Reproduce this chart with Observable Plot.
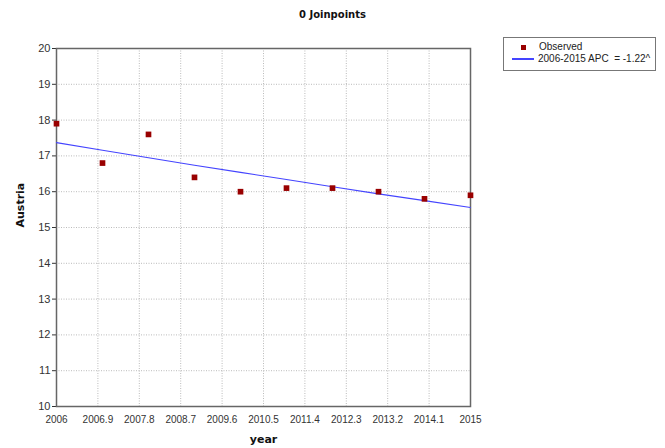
<!DOCTYPE html>
<html><head><meta charset="utf-8">
<script src="https://cdn.jsdelivr.net/npm/d3@7"></script>
<script src="https://cdn.jsdelivr.net/npm/@observablehq/plot@0.6"></script>
<style>
body{margin:0;background:#fff;}
#wrap{position:relative;width:665px;height:448px;font-family:"DejaVu Sans",sans-serif;}
#title{position:absolute;left:0;width:665px;top:9px;text-align:center;font-weight:bold;font-size:10px;color:#111;}
#legend{position:absolute;left:503px;top:37px;width:153px;height:34px;border:1px solid #777;box-sizing:border-box;font-family:"Liberation Sans",sans-serif;font-size:10px;color:#222;}
.row{position:absolute;left:0;height:12px;line-height:12px;white-space:pre;}
.sw{display:inline-block;vertical-align:middle;}
</style></head>
<body><div id="wrap"><div id="title"></div><div id="legend"></div></div>
<script>
const years = [2006, 2007, 2008, 2009, 2010, 2011, 2012, 2013, 2014, 2015];
const observed = [17.9, 16.8, 17.6, 16.4, 16.0, 16.1, 16.1, 16.0, 15.8, 15.9];
const modeled = [17.37, 17.16, 16.95, 16.74, 16.54, 16.34, 16.14, 15.94, 15.75, 15.56];
const xTickLabels = ["2006", "2006.9", "2007.8", "2008.7", "2009.6", "2010.5", "2011.4", "2012.3", "2013.2", "2014.1", "2015"];
const yTicks = [10, 11, 12, 13, 14, 15, 16, 17, 18, 19, 20];
const titleText = "0 Joinpoints";
const seriesNames = ["Observed", "2006-2015 APC  = -1.22^"];
const xLabel = "year";
const yLabel = "Austria";
const colors = {observed: "#990000", line: "#4444ff"};

const xTicks = xTickLabels.map(Number);
const data = years.map((y, i) => ({year: y, obs: observed[i], fit: modeled[i]}));

const chart = Plot.plot({
  width: 665, height: 448,
  marginLeft: 56, marginRight: 195, marginTop: 48, marginBottom: 42,
  style: {fontFamily: "Liberation Sans, sans-serif", fontSize: "10px", color: "#333", background: "#fff"},
  x: {domain: [2006, 2015]},
  y: {domain: [10, 20]},
  marks: [
    Plot.gridX(xTicks, {stroke: "#aaa", strokeOpacity: 0.8, strokeDasharray: "1,1.5"}),
    Plot.gridY(yTicks, {stroke: "#aaa", strokeOpacity: 0.8, strokeDasharray: "1,1.5"}),
    Plot.axisX(xTicks, {tickSize: 0, tickPadding: 9, tickFormat: (d, i) => xTickLabels[i], label: null}),
    Plot.axisY(yTicks, {tickSize: 4, tickPadding: 2, tickFormat: d => String(d), label: null, fontSize: 11}),
    Plot.frame({stroke: "#666", strokeWidth: 1.5}),
    Plot.line(data, {x: "year", y: "fit", stroke: colors.line, strokeWidth: 1.1}),
    Plot.dot(data, {x: "year", y: "obs", symbol: "square", r: 3.2, fill: colors.observed, stroke: "none"}),
    Plot.text([xLabel], {frameAnchor: "bottom", dy: 36, text: d => d, fontWeight: "bold", fontSize: 11, fontFamily: "DejaVu Sans, sans-serif", fill: "#111"}),
    Plot.text([yLabel], {frameAnchor: "left", dx: -36, rotate: -90, text: d => d, fontWeight: "bold", fontSize: 11, fontFamily: "DejaVu Sans, sans-serif", fill: "#111"})
  ]
});
document.getElementById("wrap").prepend(chart);
chart.style.position = "absolute"; chart.style.left = "0"; chart.style.top = "0";
document.getElementById("title").textContent = titleText;

const lg = document.getElementById("legend");
const r1 = document.createElement("div"); r1.className = "row"; r1.style.top = "3px";
r1.innerHTML = `<span class="sw" style="width:5px;height:5px;background:${colors.observed};margin:0 13px 0 17px"></span>`;
r1.appendChild(document.createTextNode(seriesNames[0]));
const r2 = document.createElement("div"); r2.className = "row"; r2.style.top = "15px";
r2.innerHTML = `<span class="sw" style="width:22px;height:2px;background:${colors.line};margin:0 4px 0 8px"></span>`;
r2.appendChild(document.createTextNode(seriesNames[1]));
lg.append(r1, r2);
</script></body></html>
